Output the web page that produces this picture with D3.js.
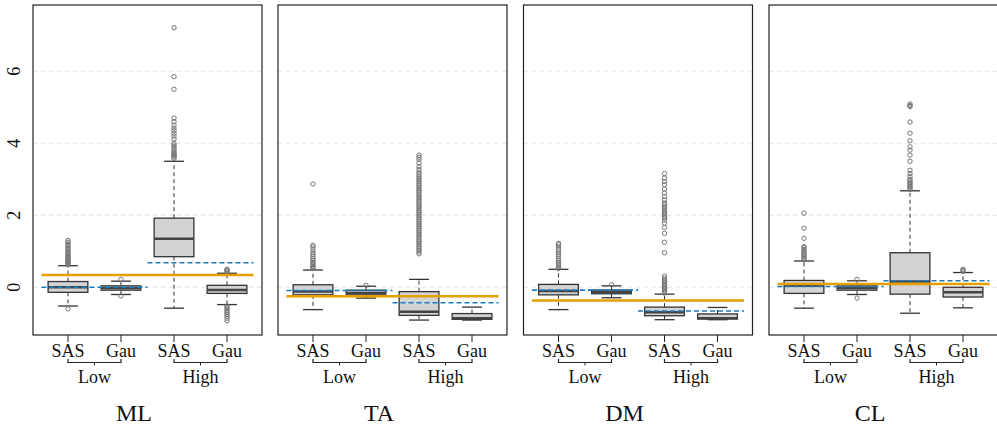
<!DOCTYPE html>
<html>
<head>
<meta charset="utf-8">
<script src="https://d3js.org/d3.v7.min.js"></script>
<style>
  body { margin: 0; background: #fff; }
  text { font-family: "Liberation Serif", "DejaVu Serif", serif; fill: #111; }
</style>
</head>
<body>
<div id="chart"></div>
<script>
// data
var panels = ["ML", "TA", "DM", "CL"];
var groups = ["Low", "High"];
var methods = ["SAS", "Gau"];
var yTicks = [0, 2, 4, 6];

// boxes per panel, order: Low SAS, Low Gau, High SAS, High Gau
var whiskLo = [[-0.52, -0.20, -0.58, -0.48], [-0.62, -0.30, -0.91, -0.91], [-0.62, -0.29, -0.90, -0.90], [-0.58, -0.20, -0.72, -0.57]];
var q1      = [[-0.14, -0.08, 0.85, -0.17], [-0.21, -0.19, -0.78, -0.89], [-0.21, -0.18, -0.79, -0.88], [-0.17, -0.08, -0.19, -0.27]];
var med     = [[0.00, -0.02, 1.35, -0.075], [-0.12, -0.16, -0.68, -0.86], [-0.10, -0.14, -0.69, -0.86], [0.04, -0.02, 0.16, -0.14]];
var q3      = [[0.16, 0.04, 1.92, 0.055], [0.07, -0.08, -0.12, -0.73], [0.08, -0.075, -0.55, -0.74], [0.19, 0.04, 0.96, 0.00]];
var whiskHi = [[0.60, 0.17, 3.50, 0.39], [0.48, 0.03, 0.22, -0.55], [0.50, 0.04, -0.19, -0.56], [0.73, 0.18, 2.68, 0.41]];

var outliers = [
  [ [-0.6, 0.63, 0.66, 0.68, 0.7, 0.72, 0.75, 0.78, 0.8, 0.83, 0.86, 0.9, 0.93, 0.96, 1.0, 1.04, 1.08, 1.12, 1.16, 1.2, 1.25, 1.3],
    [0.22, -0.24],
    [3.58, 3.62, 3.65, 3.68, 3.72, 3.75, 3.8, 3.85, 3.9, 3.95, 4.0, 4.12, 4.2, 4.28, 4.35, 4.42, 4.5, 4.6, 4.7, 5.5, 5.85, 7.21],
    [0.42, 0.45, 0.48, 0.5, -0.52, -0.56, -0.6, -0.65, -0.7, -0.75, -0.8, -0.86, -0.93] ],
  [ [0.52, 0.55, 0.58, 0.62, 0.66, 0.7, 0.75, 0.8, 0.86, 0.92, 0.98, 1.05, 1.12, 1.17, 2.87],
    [0.055],
    [0.93, 0.98, 1.03, 1.08, 1.13, 1.18, 1.23, 1.28, 1.33, 1.38, 1.43, 1.48, 1.53, 1.58, 1.63, 1.68, 1.73, 1.78, 1.83, 1.88,
     1.93, 1.98, 2.03, 2.08, 2.13, 2.18, 2.23, 2.28, 2.33, 2.38, 2.43, 2.48, 2.53, 2.58, 2.63, 2.68, 2.73, 2.78, 2.83, 2.88,
     2.93, 2.98, 3.03, 3.08, 3.14, 3.2, 3.27, 3.35, 3.45, 3.55, 3.61, 3.67],
    [] ],
  [ [0.52, 0.56, 0.6, 0.65, 0.7, 0.75, 0.8, 0.86, 0.92, 0.98, 1.05, 1.12, 1.18, 1.22],
    [0.07],
    [-0.16, -0.12, -0.08, -0.04, 0.0, 0.04, 0.08, 0.12, 0.16, 0.2, 0.25, 0.31, 0.96, 1.25, 1.5, 1.66, 1.78, 1.87, 1.93, 1.96,
     2.02, 2.06, 2.1, 2.15, 2.2, 2.25, 2.3, 2.34, 2.43, 2.52, 2.62, 2.73, 2.85, 2.94, 3.03, 3.16],
    [] ],
  [ [0.76, 0.8, 0.84, 0.88, 0.92, 0.96, 1.0, 1.05, 1.1, 1.13, 1.36, 1.64, 2.06],
    [0.22, -0.3],
    [2.72, 2.76, 2.8, 2.84, 2.88, 2.92, 2.96, 3.0, 3.08, 3.16, 3.25, 3.5, 3.67, 3.81, 3.9, 4.07, 4.28, 4.59, 5.02, 5.05, 5.09],
    [0.44, 0.47, 0.5] ]
];

var orangeLine = [0.34, -0.25, -0.37, 0.09];
var blueLine = [[0.00, 0.68], [-0.09, -0.43], [-0.08, -0.66], [0.02, 0.18]];

var width = 997, height = 428;
var panelLeft = [33, 278, 523.5, 769];
var panelW = 229, plotTop = 5, plotBottom = 335;

var svg = d3.select("#chart").append("svg")
  .attr("width", width)
  .attr("height", height);

var yScale = d3.scaleLinear().domain([-1.325, 7.84]).range([plotBottom, plotTop]);

// y tick labels, only left of first panel
yTicks.forEach(function(t) {
  svg.append("text")
    .attr("transform", "translate(20," + yScale(t) + ") rotate(-90)")
    .attr("text-anchor", "middle")
    .style("font-size", "18px")
    .text(t);
});

panels.forEach(function(name, p) {
  var left = panelLeft[p];
  var xScale = d3.scaleLinear().domain([0.34, 4.66]).range([left, left + panelW]);
  var g = svg.append("g");

  // grid
  yTicks.forEach(function(t) {
    g.append("line")
      .attr("x1", left).attr("x2", left + panelW)
      .attr("y1", yScale(t)).attr("y2", yScale(t))
      .attr("stroke", "#e2e2e2").attr("stroke-dasharray", "4,4");
  });

  // boxes
  for (var i = 0; i < 4; i++) {
    var cx = xScale(i + 1);
    var bw = xScale(0.75) - xScale(0);
    // whiskers
    g.append("line").attr("x1", cx).attr("x2", cx)
      .attr("y1", yScale(q3[p][i])).attr("y2", yScale(whiskHi[p][i]))
      .attr("stroke", "#333").attr("stroke-dasharray", "4,3");
    g.append("line").attr("x1", cx).attr("x2", cx)
      .attr("y1", yScale(q1[p][i])).attr("y2", yScale(whiskLo[p][i]))
      .attr("stroke", "#333").attr("stroke-dasharray", "4,3");
    [whiskHi[p][i], whiskLo[p][i]].forEach(function(v) {
      g.append("line").attr("x1", cx - bw / 4).attr("x2", cx + bw / 4)
        .attr("y1", yScale(v)).attr("y2", yScale(v))
        .attr("stroke", "#333").attr("stroke-width", 1.3);
    });
    g.append("rect")
      .attr("x", cx - bw / 2).attr("width", bw)
      .attr("y", yScale(q3[p][i]))
      .attr("height", yScale(q1[p][i]) - yScale(q3[p][i]))
      .attr("fill", "#d3d3d3").attr("stroke", "#333").attr("stroke-width", 1.3);
    g.append("line").attr("x1", cx - bw / 2).attr("x2", cx + bw / 2)
      .attr("y1", yScale(med[p][i])).attr("y2", yScale(med[p][i]))
      .attr("stroke", "#444").attr("stroke-width", 2.5);
    g.selectAll(null).data(outliers[p][i]).enter().append("circle")
      .attr("cx", cx).attr("cy", function(d) { return yScale(d); })
      .attr("r", 2.2)
      .attr("fill", "none").attr("stroke", "#777").attr("stroke-width", 1);
  }

  // reference lines
  g.append("line")
    .attr("x1", xScale(0.5)).attr("x2", xScale(4.5))
    .attr("y1", yScale(orangeLine[p])).attr("y2", yScale(orangeLine[p]))
    .attr("stroke", "#E69F00").attr("stroke-width", 2.5);
  groups.forEach(function(gr, k) {
    g.append("line")
      .attr("x1", xScale(0.5 + 2 * k)).attr("x2", xScale(2.5 + 2 * k))
      .attr("y1", yScale(blueLine[p][k])).attr("y2", yScale(blueLine[p][k]))
      .attr("stroke", "#1a7cc1").attr("stroke-width", 1.6).attr("stroke-dasharray", "5,3");
  });

  // frame
  g.append("rect")
    .attr("x", left).attr("y", plotTop)
    .attr("width", panelW).attr("height", plotBottom - plotTop)
    .attr("fill", "none").attr("stroke", "#222").attr("stroke-width", 1.2);

  // x axis ticks and labels
  for (var j = 0; j < 4; j++) {
    var tx = xScale(j + 1);
    g.append("line").attr("x1", tx).attr("x2", tx)
      .attr("y1", plotBottom).attr("y2", plotBottom + 7)
      .attr("stroke", "#222");
    g.append("text")
      .attr("x", tx).attr("y", 357)
      .attr("text-anchor", "middle")
      .style("font-size", "18px")
      .text(methods[j % 2]);
  }

  // group brackets
  groups.forEach(function(gr, k) {
    var a = xScale(1 + 2 * k), b = xScale(2 + 2 * k), m = (a + b) / 2;
    g.append("path")
      .attr("d", "M" + a + ",359 L" + a + ",362.5 L" + b + ",362.5 L" + b + ",359")
      .attr("fill", "none").attr("stroke", "#222").attr("stroke-width", 1.2);
    g.append("line").attr("x1", m).attr("x2", m)
      .attr("y1", 362.5).attr("y2", 365.5)
      .attr("stroke", "#222");
    g.append("text")
      .attr("x", m).attr("y", 383)
      .attr("text-anchor", "middle")
      .style("font-size", "18px")
      .text(gr);
  });

  // panel title
  g.append("text")
    .attr("x", left + 101).attr("y", 421)
    .attr("text-anchor", "middle")
    .style("font-size", "24px")
    .text(name);
});
</script>
</body>
</html>
